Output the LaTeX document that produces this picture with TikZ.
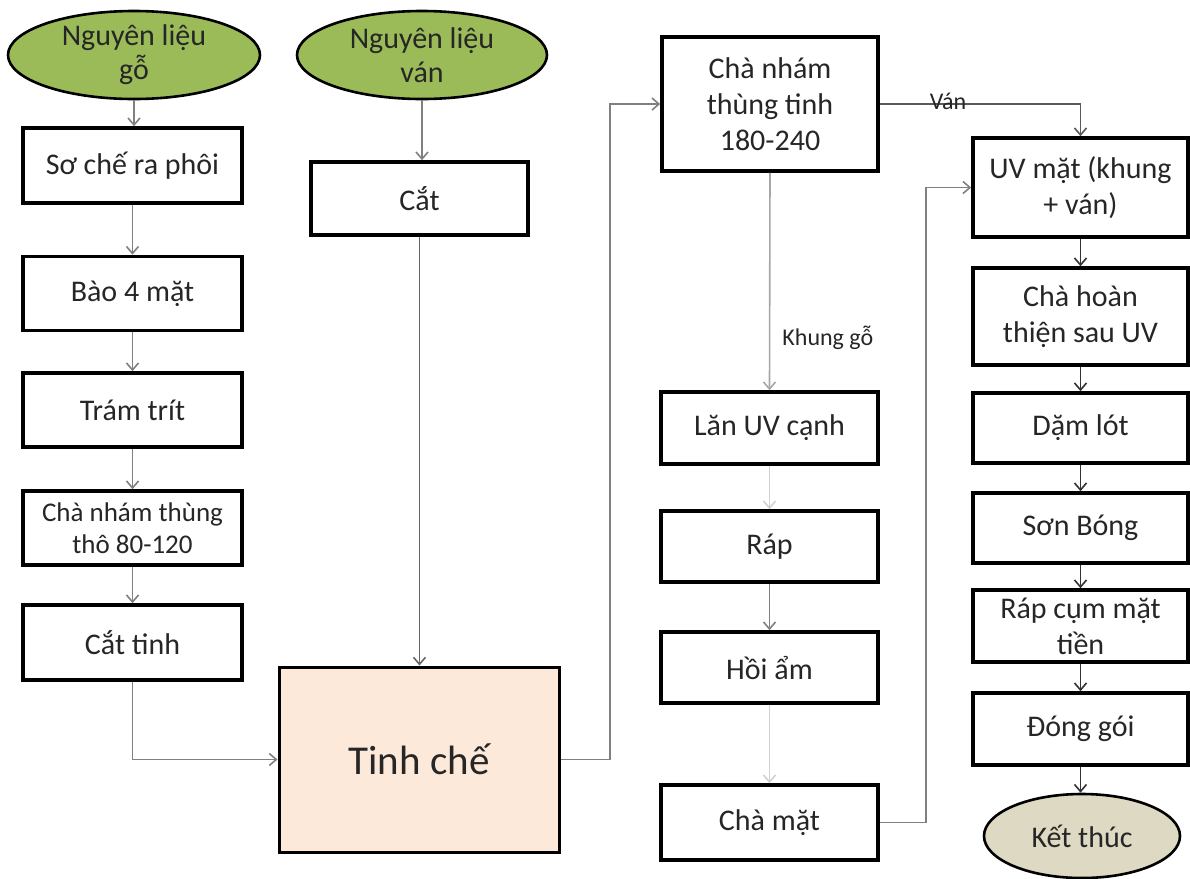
\documentclass[tikz,border=0pt]{standalone}
\usepackage{fontspec}
\setmainfont{Carlito}
\usetikzlibrary{arrows.meta,shapes.geometric}
\begin{document}
\begin{tikzpicture}[x=0.5pt,y=-0.5pt,
  box/.style={draw=black, line width=1.8pt, fill=white, align=center, inner sep=0pt,
    font=\fontsize{15}{18}\selectfont, text=black!85},
  term/.style={ellipse, draw=black, line width=1.3pt, align=center, inner sep=0pt,
    font=\fontsize{15}{17}\selectfont, text=black!85},
  conn/.style={draw=black!50, line width=0.8pt, -{Straight Barb[length=3.5pt,width=6pt]}},
  connd/.style={conn, draw=black!80},
  connl/.style={conn, draw=black!18},
  connm/.style={conn, draw=black!35},
  lbl/.style={font=\fontsize{12}{14}\selectfont, text=black!85, inner sep=0pt}
]
\useasboundingbox (0,0) rectangle (1190,879);
% left column
\node[term, fill={rgb,255:red,155;green,187;blue,89}, minimum width=126pt, minimum height=44pt] (ng) at (134,55) {Nguyên liệu\\gỗ};
\node[term, fill={rgb,255:red,155;green,187;blue,89}, minimum width=125pt, minimum height=44pt] (nv) at (422,55) {Nguyên liệu\\ván};
\node[box, minimum width=109.5pt, minimum height=37.5pt] (so) at (132.5,165.5) {Sơ chế ra phôi};
\node[box, minimum width=109.5pt, minimum height=37pt] (bao) at (132.5,293.5) {Bào 4 mặt};
\node[box, minimum width=109.5pt, minimum height=37pt] (tram) at (132.5,410) {Trám trít};
\node[box, minimum width=109.5pt, minimum height=37pt, font=\fontsize{13.5}{16}\selectfont] (cnt) at (132.5,528) {Chà nhám thùng\\thô 80-120};
\node[box, minimum width=109.5pt, minimum height=37.5pt] (cattinh) at (132.5,642.5) {Cắt tinh};
% middle-left
\node[box, minimum width=108.5pt, minimum height=36.5pt] (cat) at (419.5,198.5) {Cắt};
\node[box, fill={rgb,255:red,253;green,233;blue,217}, line width=1.5pt, minimum width=140pt, minimum height=92.5pt,
  font=\fontsize{20.5}{24}\selectfont] (tinh) at (419,759.5) {Tinh chế};
% middle column
\node[box, minimum width=108pt, minimum height=67pt] (ct) at (770,104) {Chà nhám\\thùng tinh\\180-240};
\node[box, minimum width=108.5pt, minimum height=36pt] (lan) at (769.5,428) {Lăn UV cạnh};
\node[box, minimum width=108.5pt, minimum height=35.5pt] (rap) at (769.5,546.5) {Ráp};
\node[box, minimum width=108.5pt, minimum height=35.5pt] (hoi) at (769.5,667.5) {Hồi ẩm};
\node[box, minimum width=108.5pt, minimum height=37.5pt] (chamat) at (769.5,822.5) {Chà mặt};
% right column
\node[box, minimum width=107.5pt, minimum height=49.5pt] (uv) at (1080.5,187.5) {UV mặt (khung\\+ ván)};
\node[box, minimum width=107.5pt, minimum height=48.5pt] (cht) at (1080.5,316.5) {Chà hoàn\\thiện sau UV};
\node[box, minimum width=107.5pt, minimum height=35pt] (dam) at (1080.5,428) {Dặm lót};
\node[box, minimum width=107.5pt, minimum height=35pt] (son) at (1080.5,528) {Sơn Bóng};
\node[box, minimum width=107.5pt, minimum height=36pt] (rapcum) at (1080.5,626) {Ráp cụm mặt\\tiền};
\node[box, minimum width=107.5pt, minimum height=36pt] (dong) at (1080.5,729) {Đóng gói};
\node[term, fill={rgb,255:red,221;green,217;blue,195}, minimum width=98pt, minimum height=42pt] (ket) at (1082,836) {Kết thúc};
% junctions
\coordinate (j1) at (610,759.5);
\coordinate (j2) at (926,822.5);
% connectors left
\draw[conn] (ng.south) -- (ng.south |- so.north);
\draw[conn] (so) -- (bao);
\draw[conn] (bao) -- (tram);
\draw[conn] (tram) -- (cnt);
\draw[conn] (cnt) -- (cattinh);
\draw[conn] (cattinh.south) |- (tinh.west);
\draw[conn] (nv.south) -- (nv.south |- cat.north);
\draw[conn, draw=black!60] (cat.south) -- (cat.south |- tinh.north);
\draw[conn] (tinh.east) -- (j1) |- (ct.west);
% middle
\draw[connd, draw=black!65] (ct.east) -| (uv.north) node[lbl, pos=0.17, anchor=south, yshift=-3pt] {Ván};
\draw[connm] (ct.south) -- (lan.north) node[lbl, pos=0.76, right, xshift=6pt] {Khung gỗ};
\draw[connl] (lan) -- (rap);
\draw[conn] (rap) -- (hoi);
\draw[connl] (hoi) -- (chamat);
\draw[conn] (chamat.east) -- (j2) |- (uv.west);
% right column
\draw[connd] (uv) -- (cht);
\draw[connd] (cht) -- (dam);
\draw[connd] (dam) -- (son);
\draw[connd] (son) -- (rapcum);
\draw[connd] (rapcum) -- (dong);
\draw[connd] (dong.south) -- (dong.south |- ket.north);
\end{tikzpicture}
\end{document}
